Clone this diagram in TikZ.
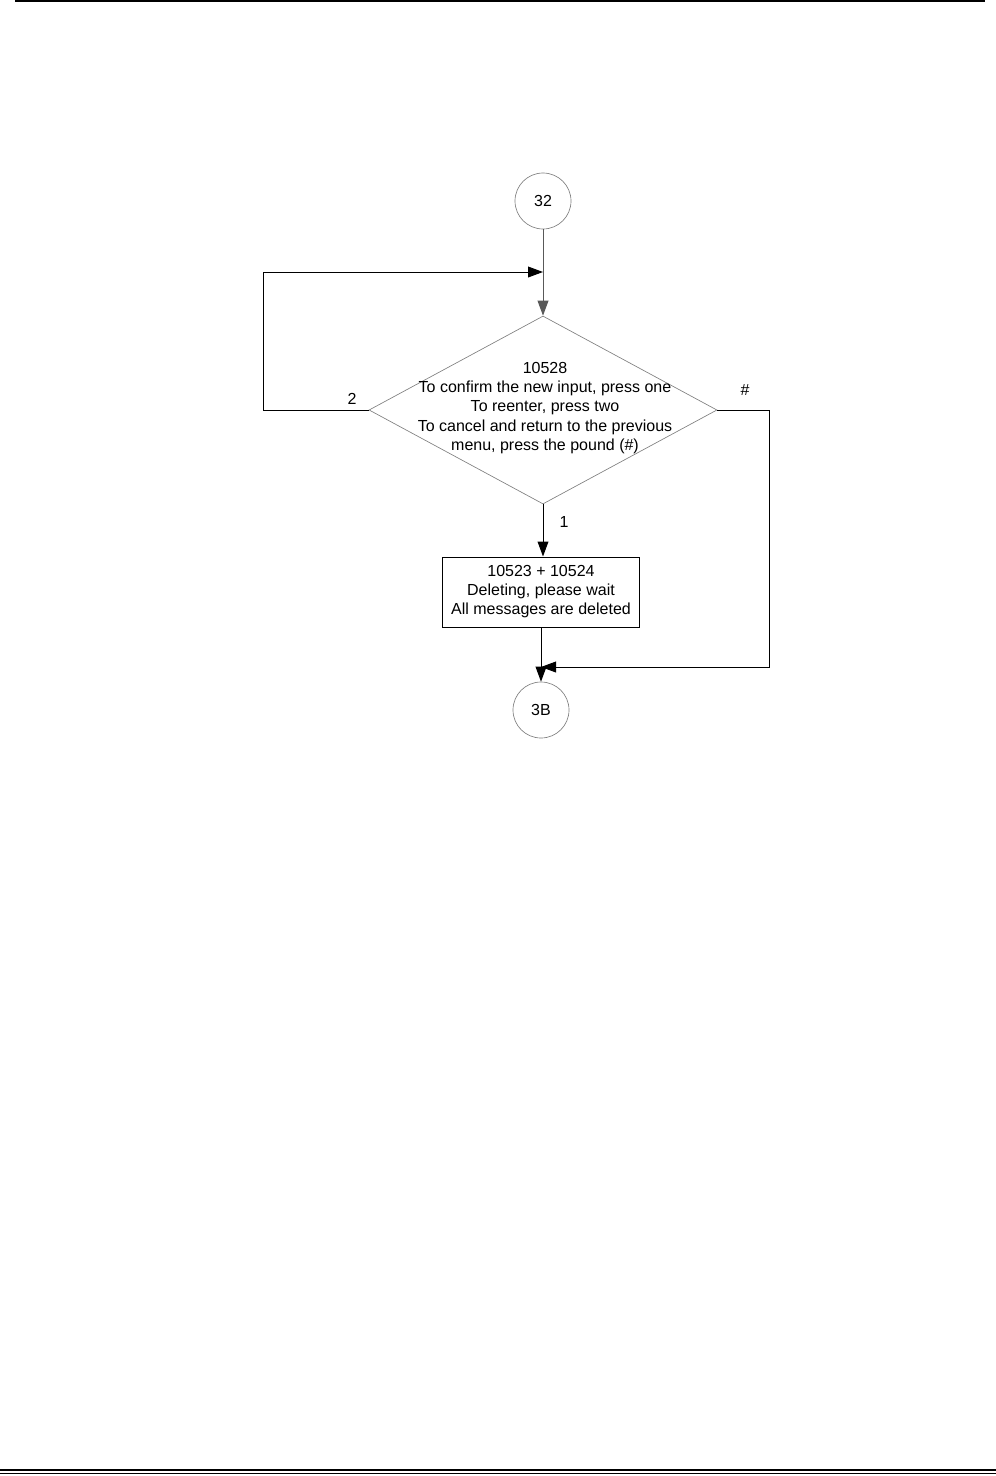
\documentclass[tikz,border=0pt]{standalone}
\usepackage{fontspec}
\setmainfont{Liberation Sans}
\usetikzlibrary{shapes.geometric,arrows.meta}

\begin{document}
\begin{tikzpicture}[x=0.6pt,y=-0.6pt,
		every node/.style={font=\fontsize{9.6}{11.6}\selectfont},
		conn/.style={circle,draw=gray,line width=0.4pt,minimum size=33.6pt,inner sep=0},
		decision/.style={diamond,draw=gray,line width=0.4pt,minimum width=208.8pt,minimum height=112.8pt,inner sep=0},
		action/.style={rectangle,draw,line width=0.6pt,minimum width=118.2pt,minimum height=42pt,align=center,inner sep=0,font=\fontsize{9.6}{11.4}\selectfont},
		flow/.style={line width=0.6pt,-{Triangle[length=9pt,width=6.5pt]}}]
			\useasboundingbox (0,0) rectangle (996,1476);
			\draw[line width=1.5pt] (15,1) -- (985,1);
			\draw[line width=1.3pt] (0,1470) -- (996,1470);
			\draw[line width=0.8pt] (0,1473.7) -- (996,1473.7);
			
			\node[conn] (c32) at (543,201) {32};
			\node[decision] (d) at (543,410) {};
			\node[align=center,inner sep=0] (dtxt) at (545,408) {10528\\To confirm the new input, press one\\To reenter, press two\\To cancel and return to the previous\\menu, press the pound (\#)};
			\node[action] (del) at (541,592) {10523 + 10524\\Deleting, please wait\\All messages are deleted};
			\node[conn] (c3b) at (541,710) {3B};
			
			\coordinate (back) at (543,272);
			\coordinate (join) at (541,667);
			\draw[flow,draw=gray!70!black] (c32) -- (d.north);
			\draw[flow] (d.west) -- (263,410) |- (back);
			\draw[flow] (d.east) -- (769,410) |- (join);
			\draw[flow] (d.south) -- (d.south |- del.north);
			\draw[flow] (del) -- (c3b);
			
			\node (l2) at (352,399) {2};
			\node (lh) at (745,390) {\#};
			\node (l1) at (564,522) {1};
		\end{tikzpicture}
\end{document}
